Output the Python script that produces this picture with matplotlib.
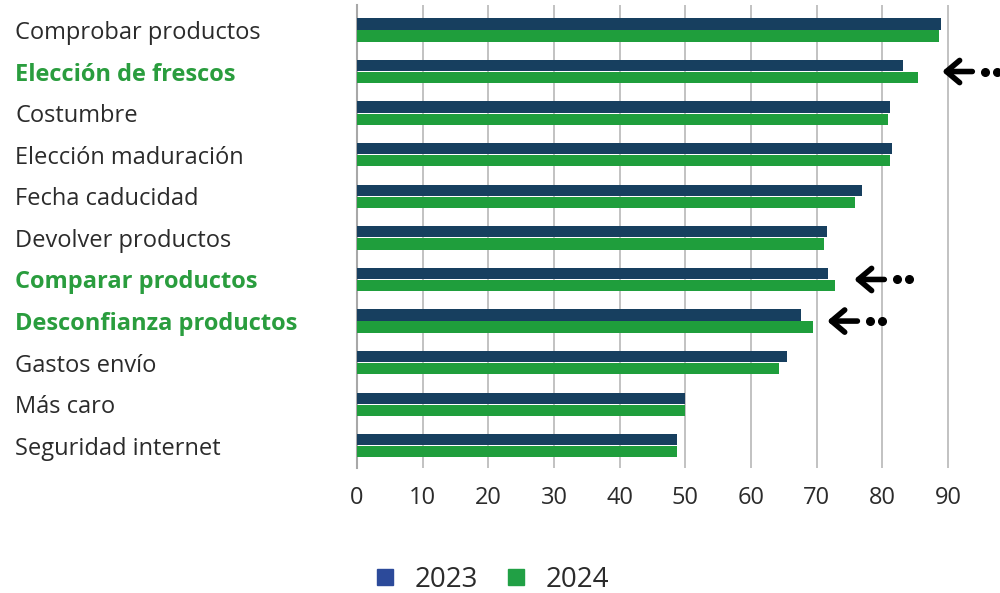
import numpy as np
import matplotlib.pyplot as plt
from matplotlib.lines import Line2D

# datos
categorias = ['Comprobar productos', 'Elección de frescos', 'Costumbre',
              'Elección maduración', 'Fecha caducidad', 'Devolver productos',
              'Comparar productos', 'Desconfianza productos', 'Gastos envío',
              'Más caro', 'Seguridad internet']
v2023 = [88.9, 83.2, 81.1, 81.4, 76.9, 71.5, 71.7, 67.6, 65.5, 50.0, 48.7]
v2024 = [88.7, 85.4, 80.8, 81.1, 75.9, 71.1, 72.8, 69.4, 64.2, 50.0, 48.7]
destacadas = ['Elección de frescos', 'Comparar productos', 'Desconfianza productos']
xticks = [0, 10, 20, 30, 40, 50, 60, 70, 80, 90]

# flechas: (categoria, punta de la flecha en x)
flechas = [('Elección de frescos', 89.1), ('Comparar productos', 75.7),
           ('Desconfianza productos', 71.6)]

azul = '#173f5f'
verde = '#1f9e3c'
verde_txt = '#2a9d3e'
gris = '#bdbdbd'
texto = '#2b2b2b'

plt.rcParams['font.family'] = ['Open Sans', 'DejaVu Sans']

fig = plt.figure(figsize=(10, 5.93), dpi=100)
ax = fig.add_axes([0.357, 0.211, 0.637, 0.7806])

y = np.arange(len(categorias))
h = 0.27
ax.barh(y - h / 2 - 0.01, v2023, height=h, color=azul, zorder=3)
ax.barh(y + h / 2 + 0.01, v2024, height=h, color=verde, zorder=3)

ax.set_xlim(0, 97)
ax.set_ylim(10.53, -0.6)

ax.set_xticks(xticks)
ax.grid(axis='x', color=gris, lw=1.3, zorder=0)
ax.tick_params(axis='x', length=0, pad=13, labelsize=17, labelcolor=texto)
for s in ['top', 'right', 'bottom']:
    ax.spines[s].set_visible(False)
ax.spines['left'].set_color('#a8a8a8')
ax.spines['left'].set_linewidth(1.5)

ax.set_yticks(y)
ax.set_yticklabels(categorias, ha='left', fontsize=17, color=texto)
ax.tick_params(axis='y', length=0, pad=246)
for lab in ax.get_yticklabels():
    if lab.get_text() in destacadas:
        lab.set_color(verde_txt)
        lab.set_fontweight('bold')

# flechas negras con puntos
for cat, xh in flechas:
    yy = categorias.index(cat)
    ax.annotate('', xy=(xh, yy), xytext=(xh + 4.6, yy),
                arrowprops=dict(arrowstyle='->, head_length=0.95, head_width=0.8',
                                lw=4, color='black', capstyle='round',
                                joinstyle='round', shrinkA=0, shrinkB=0),
                annotation_clip=False)
    ax.plot([xh + 6.5, xh + 8.4], [yy, yy], 'o', color='black', ms=5.5,
            clip_on=False, zorder=5)

handles = [Line2D([], [], marker='s', ls='', color='#2c4a9a', ms=12),
           Line2D([], [], marker='s', ls='', color='#21a045', ms=12)]
fig.legend(handles, ['2023', '2024'], loc='center', bbox_to_anchor=(0.49, 0.022),
           ncol=2, frameon=False, fontsize=20, handlelength=1.0,
           handletextpad=0.58, columnspacing=0.86, labelcolor=texto)

fig.savefig('out.png', dpi=100)
